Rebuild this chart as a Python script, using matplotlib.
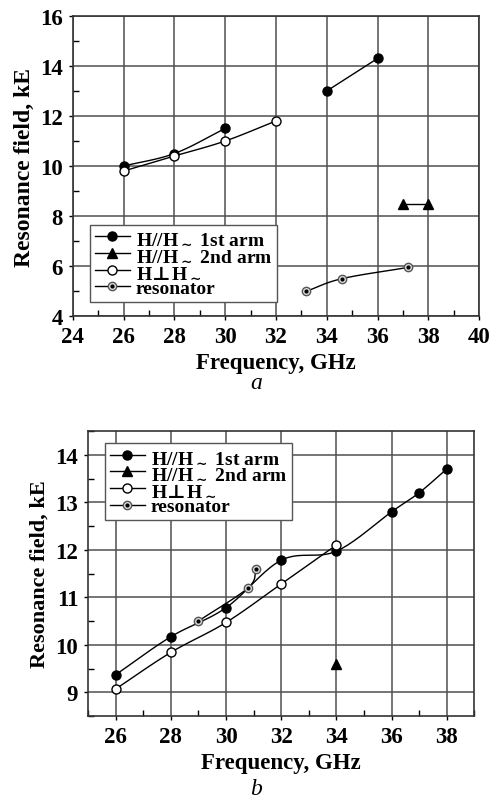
import numpy as np
import matplotlib
matplotlib.use("Agg")
import matplotlib.pyplot as plt
from matplotlib.legend_handler import HandlerTuple
from matplotlib.ticker import MultipleLocator

plt.rcParams["font.family"] = ["Liberation Serif", "DejaVu Serif"]
plt.rcParams["font.weight"] = "bold"
plt.rcParams["mathtext.fontset"] = "dejavuserif"

# panel a
a_arm1_f1 = [26, 28, 30]
a_arm1_h1 = [10.0, 10.5, 11.5]
a_arm1_f2 = [34, 36]
a_arm1_h2 = [13.0, 14.3]
a_arm2_f = [37, 38]
a_arm2_h = [8.5, 8.5]
a_perp_f = [26, 28, 30, 32]
a_perp_h = [9.8, 10.4, 11.0, 11.8]
a_res_f = [33.2, 34.6, 37.2]
a_res_h = [5.0, 5.5, 5.95]

# panel b
b_arm1_f = [26, 28, 30, 32, 34, 36, 37, 38]
b_arm1_h = [9.37, 10.17, 10.78, 11.78, 11.97, 12.8, 13.2, 13.7]
b_arm2_f = [34]
b_arm2_h = [9.6]
b_perp_f = [26, 28, 30, 32, 34]
b_perp_h = [9.07, 9.84, 10.47, 11.28, 12.1]
b_res_f = [29, 30.8, 31.1]
b_res_h = [10.5, 11.2, 11.6]

labels = ["H//H$_{\\sim}$ 1st arm", "H//H$_{\\sim}$ 2nd arm",
          "H$\\!\\bot\\!$H$_{\\sim}$", "resonator"]


def smooth(x, y, n=20):
    # catmull-rom curve through the points, only for the connecting line
    x = np.asarray(x, float)
    y = np.asarray(y, float)
    if len(x) < 3:
        return x, y
    px = np.concatenate([[2 * x[0] - x[1]], x, [2 * x[-1] - x[-2]]])
    py = np.concatenate([[2 * y[0] - y[1]], y, [2 * y[-1] - y[-2]]])
    xs, ys = [], []
    t = np.linspace(0, 1, n, endpoint=False)
    for i in range(1, len(px) - 2):
        for p, out in ((px, xs), (py, ys)):
            p0, p1, p2, p3 = p[i - 1], p[i], p[i + 1], p[i + 2]
            out.extend(0.5 * (2 * p1 + (-p0 + p2) * t
                              + (2 * p0 - 5 * p1 + 4 * p2 - p3) * t ** 2
                              + (-p0 + 3 * p1 - 3 * p2 + p3) * t ** 3))
    xs.append(x[-1])
    ys.append(y[-1])
    return np.array(xs), np.array(ys)


def serie(ax, f, h, kind):
    sx, sy = smooth(f, h)
    ax.plot(sx, sy, color="black", lw=1.0, zorder=3)
    if kind == "arm1":
        ax.plot(f, h, "o", color="black", ms=6.5, zorder=4)
    elif kind == "arm2":
        ax.plot(f, h, "^", color="black", ms=7, zorder=4)
    elif kind == "perp":
        ax.plot(f, h, "o", mfc="white", mec="black", mew=1.0, ms=6.5, zorder=4)
    else:
        ax.plot(f, h, "o", mfc="#dddddd", mec="#555555", mew=1.0, ms=6, zorder=4)
        ax.plot(f, h, "o", color="black", ms=2, zorder=5)


def legend_handles(ax):
    l = dict(color="black", lw=1.0)
    h1 = ax.plot([], [], marker="o", ms=6.5, **l)[0]
    h2 = ax.plot([], [], marker="^", ms=7, **l)[0]
    h3 = ax.plot([], [], marker="o", mfc="white", mec="black", ms=6.5, **l)[0]
    h4a = ax.plot([], [], marker="o", mfc="#dddddd", mec="#555555", ms=6, **l)[0]
    h4b = ax.plot([], [], marker="o", color="black", ms=2, lw=0)[0]
    return [h1, h2, h3, (h4a, h4b)]


def estilo(ax, ysize):
    ax.grid(True, which="major", color="#505050", lw=1.1)
    ax.tick_params(which="major", direction="out", length=3, width=1.0,
                   labelsize=16.5, pad=4)
    ax.tick_params(which="minor", direction="in", length=4, width=1.0)
    for s in ax.spines.values():
        s.set_color("#333333")
        s.set_linewidth(1.2)
    ax.set_xlabel("Frequency, GHz", fontsize=16.5, fontweight="bold")
    ax.set_ylabel("Resonance field, kE", fontsize=ysize, fontweight="bold")


def leyenda(ax, **pos):
    ax.legend(legend_handles(ax), labels, handler_map={tuple: HandlerTuple(ndivide=1)},
              fontsize=14, fancybox=False, edgecolor="#555555", framealpha=1,
              borderpad=0.25, labelspacing=-0.05, handlelength=1.8, handletextpad=0.3,
              borderaxespad=0, **pos)


fig = plt.figure(figsize=(4.92, 8.03), dpi=100)

ax1 = fig.add_axes([0.148, 0.605, 0.826, 0.374])
serie(ax1, a_arm1_f1, a_arm1_h1, "arm1")
serie(ax1, a_arm1_f2, a_arm1_h2, "arm1")
serie(ax1, a_arm2_f, a_arm2_h, "arm2")
serie(ax1, a_perp_f, a_perp_h, "perp")
serie(ax1, a_res_f, a_res_h, "res")
ax1.set_xlim(24, 40)
ax1.set_ylim(4, 16)
ax1.xaxis.set_major_locator(MultipleLocator(2))
ax1.xaxis.set_minor_locator(MultipleLocator(1))
ax1.yaxis.set_major_locator(MultipleLocator(2))
ax1.yaxis.set_minor_locator(MultipleLocator(1))
estilo(ax1, 17)
leyenda(ax1, loc="lower left", bbox_to_anchor=(0.042, 0.047))
fig.text(0.52, 0.515, "a", fontsize=17, fontstyle="italic", fontweight="normal", ha="center")

ax2 = fig.add_axes([0.179, 0.107, 0.785, 0.355])
serie(ax2, b_arm1_f, b_arm1_h, "arm1")
serie(ax2, b_arm2_f, b_arm2_h, "arm2")
serie(ax2, b_perp_f, b_perp_h, "perp")
serie(ax2, b_res_f, b_res_h, "res")
ax2.set_xlim(25, 39)
ax2.set_ylim(8.5, 14.5)
ax2.xaxis.set_major_locator(MultipleLocator(2))
ax2.xaxis.set_minor_locator(MultipleLocator(1))
ax2.yaxis.set_major_locator(MultipleLocator(1))
ax2.yaxis.set_minor_locator(MultipleLocator(0.5))
estilo(ax2, 16)
leyenda(ax2, loc="upper left", bbox_to_anchor=(0.044, 0.958))
fig.text(0.52, 0.01, "b", fontsize=17, fontstyle="italic", fontweight="normal", ha="center")

fig.savefig("out.png", dpi=100)
